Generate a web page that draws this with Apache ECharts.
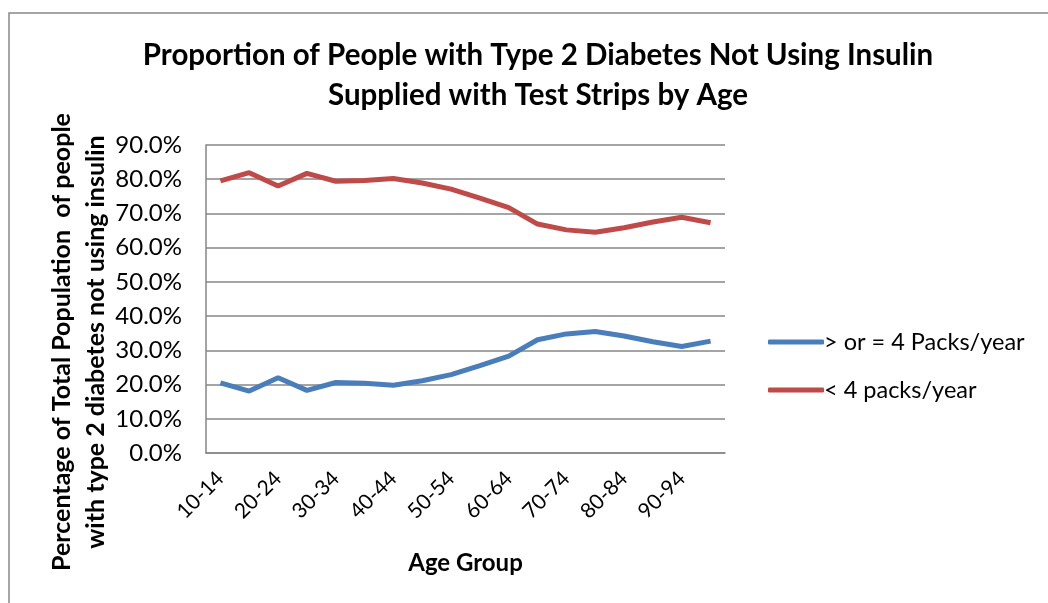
<!DOCTYPE html>
<html>
<head>
<meta charset="utf-8">
<script src="https://cdn.jsdelivr.net/npm/echarts@6/dist/echarts.min.js"></script>
<style>html,body{margin:0;padding:0;background:#fff;}#c{width:1048px;height:603px;}</style>
</head>
<body>
<div id="c"></div>
<script>
const categories = ['10-14','15-19','20-24','25-29','30-34','35-39','40-44','45-49','50-54','55-59','60-64','65-69','70-74','75-79','80-84','85-89','90-94','95+'];
const seriesNames = ['> or = 4 Packs/year', '< 4 packs/year'];
const highUse = [20.5, 18.1, 22.0, 18.3, 20.6, 20.4, 19.8, 21.1, 22.9, 25.5, 28.3, 33.1, 34.8, 35.5, 34.2, 32.5, 31.1, 32.7];
const lowUse  = [79.5, 81.9, 78.0, 81.7, 79.4, 79.6, 80.2, 78.9, 77.1, 74.5, 71.7, 66.9, 65.2, 64.5, 65.8, 67.5, 68.9, 67.3];
const yTicks = { min: 0, max: 90, interval: 10 };

const FONT = 'Lato';
const chart = echarts.init(document.getElementById('c'));
chart.setOption({
  animation: false,
  backgroundColor: '#fff',
  title: {
    text: 'Proportion of People with Type 2 Diabetes Not Using Insulin\nSupplied with Test Strips by Age',
    left: 533, top: 30, textAlign: 'center',
    textStyle: { fontFamily: FONT, fontWeight: 'bold', fontSize: 29.5, lineHeight: 40, color: '#000' }
  },
  grid: { left: 206, right: 323, top: 145, bottom: 150, containLabel: false },
  legend: {
    orient: 'vertical', left: 763, top: 325,
    itemWidth: 56, itemHeight: 5, itemGap: 24,
    icon: 'roundRect',
    textStyle: { fontFamily: FONT, fontSize: 23.5, color: '#000', padding: [0, 0, 0, -5] },
    data: seriesNames
  },
  xAxis: {
    type: 'category', data: categories, boundaryGap: true,
    name: 'Age Group', nameLocation: 'middle', nameGap: 98,
    nameTextStyle: { fontFamily: FONT, fontWeight: 'bold', fontSize: 24, color: '#000' },
    axisLine: { lineStyle: { color: '#868686', width: 1.5 } },
    axisTick: { show: false },
    axisLabel: { interval: 1, rotate: 45, margin: 22, fontFamily: FONT, fontSize: 21, color: '#000' }
  },
  yAxis: {
    type: 'value', min: yTicks.min, max: yTicks.max, interval: yTicks.interval,
    axisLine: { show: true, lineStyle: { color: '#868686', width: 1.5 } },
    axisTick: { show: false },
    splitLine: { lineStyle: { color: '#868686', width: 1.5 } },
    axisLabel: { margin: 24, fontFamily: FONT, fontSize: 24, color: '#000', formatter: v => v.toFixed(1) + '%' }
  },
  graphic: [
    { type: 'rect', shape: { x: 9, y: 13, width: 1200, height: 800 }, style: { fill: 'none', stroke: '#888', lineWidth: 1.5 }, silent: true },
    { type: 'text', x: 79, y: 342, rotation: Math.PI / 2,
      style: { text: 'Percentage of Total Population  of people\nwith type 2 diabetes not using insulin',
        fontFamily: FONT, fontWeight: 'bold', fontSize: 25, lineHeight: 34,
        textAlign: 'center', textVerticalAlign: 'middle', fill: '#000' } }
  ],
  series: [
    { name: seriesNames[0], type: 'line', data: highUse, symbol: 'none', lineStyle: { width: 5, color: '#4A7EBB' }, itemStyle: { color: '#4A7EBB' } },
    { name: seriesNames[1], type: 'line', data: lowUse, symbol: 'none', lineStyle: { width: 5, color: '#BE4B48' }, itemStyle: { color: '#BE4B48' } }
  ]
});
</script>
</body>
</html>
